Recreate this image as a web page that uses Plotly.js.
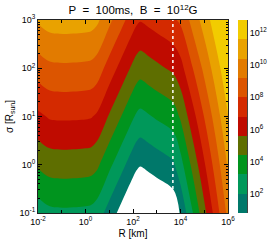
<!DOCTYPE html>
<html>
<head>
<meta charset="utf-8">
<script src="https://cdn.plot.ly/plotly-3.0.1.min.js"></script>
<style>html,body{margin:0;padding:0;background:#fff}#chart{width:270px;height:249px}</style>
</head>
<body>
<div id="chart"></div>
<script>
// log10 R [km] grid columns
var logR = [-2, -1.5, 0, 0.25, 0.5, 1, 1.5, 2, 2.15, 2.3, 2.45, 2.6, 3, 3.7, 4, 5, 6];
// log10 sigma [R_sun] grid rows
var logSigma = [-1, 0, 1, 2, 3];
// log10 of the plotted quantity (rows = sigma, cols = R)
var zRow0 = [2.55, 2.92, 2.92, 2.86, 2.60, 1.48, 0.40, -0.68, -0.97, -1.13, -1.06, -0.94, -0.66, -0.17, 0.95, 5.25, 9.55];
var zRow1 = [4.55, 4.92, 4.92, 4.86, 4.60, 3.48, 2.40, 1.32, 1.03, 0.87, 0.94, 1.06, 1.34, 1.83, 2.75, 6.65, 10.55];
var zRow2 = [6.55, 6.92, 6.92, 6.86, 6.60, 5.48, 4.40, 3.32, 3.03, 2.87, 2.94, 3.06, 3.34, 3.83, 4.55, 8.05, 11.55];
var zRow3 = [8.55, 8.92, 8.92, 8.86, 8.60, 7.48, 6.40, 5.32, 5.03, 4.87, 4.94, 5.06, 5.34, 5.83, 6.38, 9.50, 12.60];
var zRow4 = [10.55, 10.92, 10.92, 10.86, 10.60, 9.48, 8.40, 7.32, 7.03, 6.87, 6.94, 7.06, 7.34, 7.83, 8.20, 10.95, 13.65];
// contour levels (log10) and band colours, lowest first
var levelStart = 0.8, levelStep = 1.2, levelCount = 10;
var bandColors = ['#ffffff', '#00786a', '#00985a', '#00941e', '#5e6e00', '#bf0b00', '#d42a00', '#dc5500', '#e27b00', '#e9a200', '#f2cc00'];
// light-cylinder radius for P = 100 ms (km)
var rLightCylinder = 4775;
var xTickVals = [-2, 0, 2, 4, 6];
var yTickVals = [-1, 0, 1, 2, 3];
var cbTickVals = [2, 4, 6, 8, 10, 12];

function pow10(v){ return Math.pow(10, v); }
function expLabel(v){ return '10<sup>' + v + '</sup>'; }

var zGrid = [zRow0, zRow1, zRow2, zRow3, zRow4];
var cscale = bandColors.map(function(c, i){ return [i / (bandColors.length - 1), c]; });

var contour = {
  type: 'contour',
  x: logR.map(pow10),
  y: logSigma.map(pow10),
  z: zGrid,
  autocontour: false,
  contours: {start: levelStart, end: levelStart + (levelCount - 1) * levelStep + 0.1, size: levelStep, coloring: 'fill', showlines: false},
  colorscale: cscale,
  showscale: false,
  line: {width: 0, smoothing: 1},
  hoverinfo: 'skip',
  xaxis: 'x', yaxis: 'y'
};

var lc = {
  type: 'scatter', mode: 'lines',
  x: [rLightCylinder, rLightCylinder],
  y: [pow10(logSigma[0]), pow10(logSigma[logSigma.length - 1])],
  line: {color: '#ffffff', width: 1.5, dash: 'dot'},
  hoverinfo: 'skip', showlegend: false,
  xaxis: 'x', yaxis: 'y'
};

var cbBase = [], cbHeight = [], cbX = [], cbColor = [];
for (var k = 0; k < levelCount; k++) {
  cbBase.push(levelStart + k * levelStep);
  cbHeight.push(levelStep);
  cbX.push(0);
  cbColor.push(bandColors[k + 1]);
}
var colorbar = {
  type: 'bar', x: cbX, y: cbHeight, base: cbBase, width: 1,
  marker: {color: cbColor, line: {width: 0}},
  hoverinfo: 'skip', showlegend: false,
  xaxis: 'x2', yaxis: 'y2'
};

var fam = 'Liberation Sans, Arial, sans-serif';
var tickFont = {family: fam, size: 9, color: '#000'};
var layout = {
  width: 270, height: 249,
  margin: {l: 38, r: 22, t: 20, b: 36},
  paper_bgcolor: '#fff', plot_bgcolor: '#fff',
  showlegend: false,
  bargap: 0,
  title: {text: 'P\u00a0\u00a0=\u00a0\u00a0100ms,\u00a0\u00a0B\u00a0\u00a0=\u00a0\u00a010<sup>12</sup>G', x: 133 / 270, xref: 'container', xanchor: 'center', y: 0.958, yref: 'container', yanchor: 'middle', font: {family: fam, size: 11.5, color: '#000'}},
  xaxis: {
    type: 'log', range: [-2, 6], domain: [0, 190 / 210],
    tickvals: xTickVals.map(pow10), ticktext: xTickVals.map(expLabel),
    ticks: 'inside', ticklen: 4, tickcolor: '#000', tickfont: tickFont,
    minor: {ticks: 'inside', ticklen: 3, dtick: 1, tickcolor: '#000'},
    showline: true, linecolor: '#222', linewidth: 1, mirror: 'allticks',
    showgrid: false, zeroline: false,
    title: {text: 'R\u00a0[km]', font: {family: fam, size: 10, color: '#000'}, standoff: 4}
  },
  yaxis: {
    type: 'log', range: [-1, 3],
    tickvals: yTickVals.map(pow10), ticktext: yTickVals.map(expLabel),
    ticks: 'inside', ticklen: 4, tickcolor: '#000', tickfont: tickFont,
    minor: {ticks: 'inside', ticklen: 2, dtick: 'D1', tickcolor: '#000'},
    showline: true, linecolor: '#222', linewidth: 1, mirror: 'allticks',
    showgrid: false, zeroline: false,
    title: {text: 'σ\u00a0[R<sub>sun</sub>]', font: {family: fam, size: 10, color: '#000'}, standoff: 4}
  },
  xaxis2: {domain: [200 / 210, 209 / 210], range: [-0.5, 0.5], showticklabels: false, ticks: '', showgrid: false, zeroline: false, showline: false, anchor: 'y2'},
  yaxis2: {domain: [0, 1], range: [levelStart, levelStart + levelCount * levelStep], anchor: 'x2', side: 'right',
    tickvals: cbTickVals, ticktext: cbTickVals.map(expLabel), ticks: '', tickfont: tickFont,
    showgrid: false, zeroline: false, showline: true, linecolor: '#444', linewidth: 1}
};

Plotly.newPlot('chart', [contour, lc, colorbar], layout, {displayModeBar: false, staticPlot: true});
</script>
</body>
</html>
